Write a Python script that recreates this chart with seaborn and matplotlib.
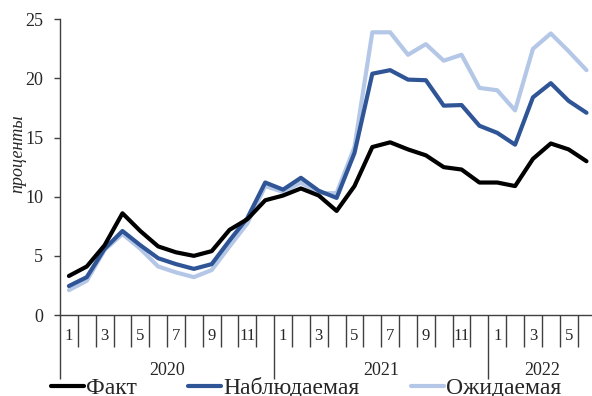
import numpy as np
import pandas as pd
import matplotlib
matplotlib.use("Agg")
import matplotlib.pyplot as plt
import matplotlib.transforms as mtransforms
import seaborn as sns

# ---- data ----
years = ["2020", "2021", "2022"]
months_per_year = [12, 12, 6]
month_labels = ["1", "", "3", "", "5", "", "7", "", "9", "", "11", "",
                "1", "", "3", "", "5", "", "7", "", "9", "", "11", "",
                "1", "", "3", "", "5", ""]
fact = [3.3, 4.1, 5.9, 8.6, 7.1, 5.8, 5.3, 5.0, 5.4, 7.2, 8.1, 9.7,
        10.1, 10.7, 10.1, 8.8, 10.9, 14.2, 14.6, 14.0, 13.5, 12.5, 12.3, 11.2,
        11.2, 10.9, 13.2, 14.5, 14.0, 13.0]
observed = [2.45, 3.2, 5.6, 7.1, 5.9, 4.8, 4.3, 3.9, 4.3, 6.3, 8.2, 11.2,
            10.6, 11.6, 10.5, 9.9, 13.7, 20.4, 20.7, 19.9, 19.85, 17.7, 17.75, 16.0,
            15.4, 14.4, 18.4, 19.6, 18.1, 17.1]
expected = [2.1, 2.9, 5.5, 6.85, 5.6, 4.1, 3.6, 3.2, 3.8, 5.8, 7.75, 10.9,
            10.4, 11.2, 10.3, 10.3, 14.2, 23.9, 23.9, 22.0, 22.9, 21.5, 22.0, 19.2,
            19.0, 17.3, 22.5, 23.8, 22.3, 20.7]
series_names = ["Факт", "Наблюдаемая", "Ожидаемая"]
colors = {"Факт": "#000000", "Наблюдаемая": "#2F5597", "Ожидаемая": "#B4C7E7"}

n = len(fact)
idx = np.arange(n)
df = pd.DataFrame({
    "t": np.concatenate([idx, idx, idx]),
    "value": fact + observed + expected,
    "series": [series_names[0]] * n + [series_names[1]] * n + [series_names[2]] * n,
})

sns.set_theme(style="white")
plt.rcParams["font.family"] = ["Liberation Serif", "DejaVu Serif"]
axis_color = "#3f3f3f"

fig = plt.figure(figsize=(5.92, 3.96), dpi=100)
ax = fig.add_axes([60 / 592, (396 - 315) / 396, 535.4 / 592, (315 - 19.3) / 396])

sns.lineplot(data=df, x="t", y="value", hue="series",
             hue_order=["Ожидаемая", "Наблюдаемая", "Факт"],
             palette=colors, linewidth=3, ax=ax, legend=True)

ax.set_xlim(-0.5, n - 0.5)
ax.set_ylim(0, 25)
ax.set_yticks([0, 5, 10, 15, 20, 25])
ax.tick_params(axis="y", labelsize=13, length=4, width=1, color=axis_color,
               direction="out", pad=8, left=True)
ax.set_xlabel("")
ax.set_ylabel("")

# month boundaries (minor) and year boundaries (major)
starts = np.cumsum([0] + months_per_year)[:-1] - 0.5
ax.set_xticks(list(starts))
ax.set_xticks(np.arange(-0.5, n, 1), minor=True)
ax.tick_params(axis="x", which="major", length=46, width=1, color=axis_color,
               direction="out", labelbottom=False, bottom=True)
ax.tick_params(axis="x", which="minor", length=23, width=1, color=axis_color,
               direction="out", labelbottom=False, bottom=True)

for s in ["top", "right"]:
    ax.spines[s].set_visible(False)
for s in ["left", "bottom"]:
    ax.spines[s].set_color(axis_color)
    ax.spines[s].set_linewidth(1)

trans = mtransforms.blended_transform_factory(ax.transData, ax.transAxes)
for i, lab in enumerate(month_labels):
    if lab:
        ax.text(i, -0.071, lab, transform=trans, ha="center", va="center", fontsize=12)
ends = np.cumsum(months_per_year) - 0.5
for st, en, y in zip(starts, ends, years):
    ax.text((st + en) / 2, -0.186, y, transform=trans, ha="center", va="center", fontsize=13)

fig.text(18 / 592, 1 - 154 / 396, "проценты", rotation=90, style="italic",
         ha="center", va="center", fontsize=13)

handles, labels = ax.get_legend_handles_labels()
ax.get_legend().remove()
hmap = dict(zip(labels, handles))
legend_x = [51, 188, 411]
for name, lx in zip(series_names, legend_x):
    leg = fig.legend([hmap[name]], [name], loc="center left",
                     bbox_to_anchor=(lx / 592, 8 / 396), frameon=False, fontsize=17,
                     handlelength=1.4, handletextpad=0.1, borderpad=0,
                     borderaxespad=0)

fig.savefig("out.png", dpi=100)
